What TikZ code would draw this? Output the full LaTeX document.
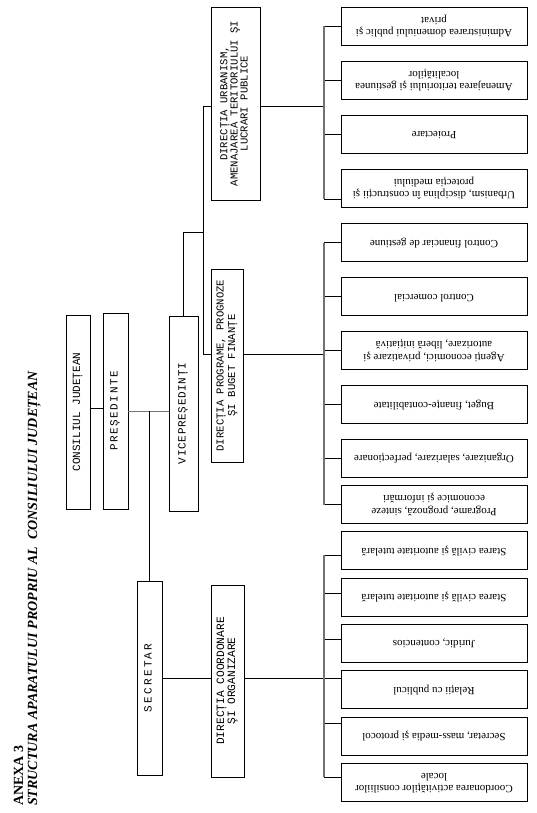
\documentclass[tikz,border=0pt]{standalone}
\usepackage{graphicx}
\usepackage{fontspec}
\setmainfont{Liberation Serif}
\newfontfamily\monof{Liberation Mono}
\usetikzlibrary{calc}
\newcommand{\vtxt}[1]{\rotatebox{90}{\begin{tabular}{@{}c@{}}#1\end{tabular}}}
\newcommand{\utxt}[1]{\rotatebox{180}{\begin{tabular}{@{}c@{}}#1\end{tabular}}}
\tikzset{
  box/.style={draw, line width=0.8pt, inner sep=0pt, fill=white},
  topbox/.style={box, font=\monof\fontsize{11}{11}\selectfont},
  dirbox/.style={box, font=\monof\fontsize{10.6}{10}\selectfont},
  leaf/.style={box, minimum width=186pt, minimum height=38pt, font=\fontsize{11}{12.5}\selectfont},
  wire/.style={line width=0.8pt},
  busline/.style={line width=1.4pt, black!55},
}
\begin{document}
\begin{tikzpicture}[x=1pt,y=-1pt]
\useasboundingbox (0,0) rectangle (536,813);
% title
\node[anchor=south west, inner sep=0pt, font=\fontsize{14}{14}\selectfont\bfseries] (title) at (13,806)
  {\rotatebox{90}{\begin{tabular}{@{}l@{}}ANEXA 3\\\itshape STRUCTURA APARATULUI PROPRIU AL\ \ CONSILIULUI JUDEȚEAN\end{tabular}}};
% top level
\node[topbox, minimum width=24pt, minimum height=194pt] (cj) at (78,412) {\vtxt{CONSILIUL JUDEȚEAN}};
\node[topbox, minimum width=25pt, minimum height=196pt] (pres) at (115.5,411) {\vtxt{\addfontfeature{LetterSpace=14}PREȘEDINTE}};
\node[topbox, minimum width=29pt, minimum height=195pt] (vice) at (183.5,413.5) {\vtxt{\addfontfeature{LetterSpace=6}VICEPREȘEDINȚI}};
\node[topbox, minimum width=25pt, minimum height=194pt] (sec) at (149.5,678) {\vtxt{\addfontfeature{LetterSpace=21}SECRETAR}};
% directions
\node[dirbox, minimum width=49pt, minimum height=193pt] (urb) at (235.5,103.5) {\vtxt{DIRECȚIA URBANISM,\\AMENAJAREA TERITORIULUI ŞI\\LUCRARI PUBLICE}};
\node[dirbox, font=\monof\fontsize{10.6}{11.5}\selectfont, minimum width=32pt, minimum height=193pt] (prog) at (227,365.5) {\vtxt{DIRECȚIA PROGRAME, PROGNOZE\\ŞI BUGET FINANȚE}};
\node[dirbox, font=\monof\fontsize{11.2}{11}\selectfont, minimum width=33pt, minimum height=192pt] (coord) at (227.5,681) {\vtxt{DIRECȚIA COORDONARE\\ŞI ORGANIZARE}};
% leaves group 1
\node[leaf] (u1) at (434,26) {\utxt{Administrarea domeniului public şi\\privat}};
\node[leaf] (u2) at (434,80) {\utxt{Amenajarea teritoriului şi gestiunea\\localităților}};
\node[leaf] (u3) at (434,134) {\utxt{Proiectare}};
\node[leaf] (u4) at (434,188) {\utxt{Urbanism, disciplina în construcții şi\\protecția mediului}};
% leaves group 2
\node[leaf] (p1) at (434,242.5) {\utxt{Control financiar de gestiune}};
\node[leaf] (p2) at (434,296.5) {\utxt{Control comercial}};
\node[leaf] (p3) at (434,350.5) {\utxt{Agenți economici, privatizare şi\\autorizare, liberă inițiativă}};
\node[leaf] (p4) at (434,404.5) {\utxt{Buget, finanțe-contabilitate}};
\node[leaf] (p5) at (434,458) {\utxt{Organizare, salarizare, perfecționare}};
\node[leaf] (p6) at (434,504.5) {\utxt{Programe, prognoză, sinteze\\economice şi informări}};
% leaves group 3
\node[leaf] (c1) at (434,550.5) {\utxt{Starea civilă şi autoritate tutelară}};
\node[leaf] (c2) at (434,597) {\utxt{Starea civilă şi autoritate tutelară}};
\node[leaf] (c3) at (434,643) {\utxt{Juridic, contencios}};
\node[leaf] (c4) at (434,689.5) {\utxt{Relații cu publicul}};
\node[leaf] (c5) at (434,736) {\utxt{Secretar, mass-media şi protocol}};
\node[leaf] (c6) at (434,782) {\utxt{Coordonarea activităților consiliilor\\locale}};
% junction coordinates
\coordinate (bx) at (324,0);
\coordinate (vx) at (203,232);
\coordinate (uj) at (203,106.5);
\coordinate (pj) at (203,354);
% connectors upper levels
\draw[wire] ([yshift=4pt]cj.east) -- ([yshift=4pt]cj.east -| pres.west);
\draw[wire, black!55] (pres.east) -- (pres.east -| vice.west);
\draw[wire] (sec.north |- pres.east) -- (sec.north);
\draw[wire] (vice.north) |- (vx);
\draw[wire] (uj) -- (pj);
\draw[wire] (uj) -- (uj -| urb.west);
\draw[wire] (pj) -- (pj -| prog.west);
\draw[wire] (uj -| urb.east) -- (uj -| bx);
\draw[wire] (pj -| prog.east) -- (pj -| bx);
\draw[wire] (sec.east) -- (sec.east -| coord.west);
\draw[wire] (sec.east -| coord.east) -- (sec.east -| c4.west);
% group 1 ticks
\foreach \n in {u1,u2,u3} \draw[wire] (\n.west) -- (\n.west -| bx);
\draw[wire] ([yshift=-11pt]u4.west) -- ([yshift=-11pt]u4.west -| bx);
\draw[busline] (u1.west -| bx) -- ([yshift=-11pt]u4.west -| bx);
% group 2 ticks
\foreach \n in {p1,p2,p3,p4,p5,p6} \draw[wire] (\n.west) -- (\n.west -| bx);
\draw[busline] (p1.west -| bx) -- (p6.west -| bx);
% group 3 ticks
\draw[wire] ([yshift=-4.5pt]c1.west) -- ([yshift=-4.5pt]c1.west -| bx);
\draw[wire] ([yshift=4pt]c2.west) -- ([yshift=4pt]c2.west -| bx);
\draw[wire] ([yshift=4pt]c3.west) -- ([yshift=4pt]c3.west -| bx);
\draw[wire] ([yshift=13pt]c5.west) -- ([yshift=13pt]c5.west -| bx);
\draw[wire] ([yshift=5pt]c6.west) -- ([yshift=5pt]c6.west -| bx);
\draw[busline] ([yshift=-4.5pt]c1.west -| bx) -- ([yshift=5pt]c6.west -| bx);
\end{tikzpicture}
\end{document}
